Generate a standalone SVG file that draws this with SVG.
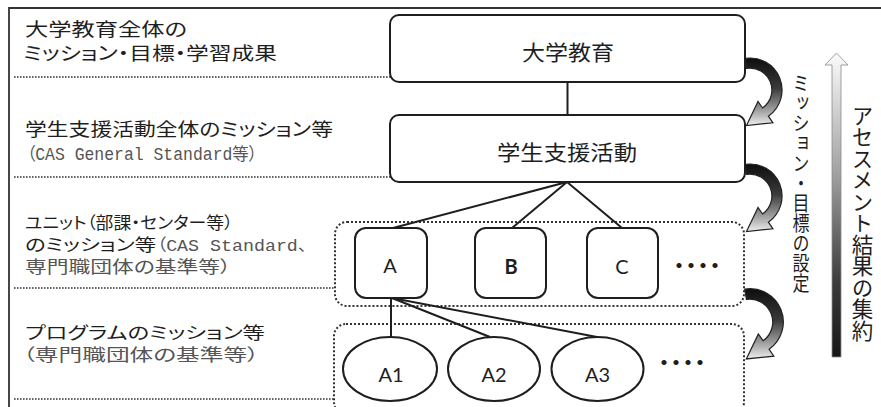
<svg xmlns="http://www.w3.org/2000/svg" width="881" height="407" viewBox="0 0 881 407">
<style>
.jp{font-family:"Noto Sans CJK JP","Noto Sans",sans-serif;font-feature-settings:"palt";fill:#1e1e1e}
.sf{font-family:"Liberation Mono","Noto Sans CJK JP",monospace;font-feature-settings:"palt";fill:#555}
.sfj{font-family:"Noto Sans CJK JP",sans-serif;font-feature-settings:"palt";fill:#555}
.sep{stroke:#333;stroke-width:1.7;stroke-dasharray:1.6 1.4;fill:none}
.dbox{stroke:#333;stroke-width:2;stroke-dasharray:2 2;fill:none}
.box{fill:#fff;stroke:#1e1e1e;stroke-width:2}
.con{stroke:#1e1e1e;stroke-width:2;fill:none}
.lbl{font-family:Lato,"Open Sans",sans-serif;font-size:20px;fill:#1e1e1e;text-anchor:middle}
.dots{font-family:"Noto Sans CJK JP",sans-serif;font-size:20px;font-weight:bold;letter-spacing:-8px;fill:#1e1e1e}
.vt{font-family:"Noto Sans CJK JP",sans-serif;fill:#1e1e1e;writing-mode:vertical-rl}
</style>
<defs>
<linearGradient id="gc" x1="0" y1="0" x2="0" y2="1">
<stop offset="0" stop-color="#0e0e0e"/>
<stop offset="0.45" stop-color="#3a3a3a"/>
<stop offset="0.8" stop-color="#a8a8a8"/>
<stop offset="1" stop-color="#efefef"/>
</linearGradient>
<linearGradient id="gu" x1="0" y1="0" x2="0" y2="1">
<stop offset="0" stop-color="#fbfbfb"/>
<stop offset="0.4" stop-color="#a0a0a0"/>
<stop offset="0.75" stop-color="#3c3c3c"/>
<stop offset="1" stop-color="#161616"/>
</linearGradient>
<path id="carrow" d="M-5,-31.6 A32,32 0 0 1 18.4,26.2 L22.9,32.8 L-3.5,35.5 L8,11.5 L12.6,18 A22,22 0 0 0 -3.4,-21.7 Z" fill="url(#gc)" stroke="#222" stroke-width="1.2"/>
</defs>

<path d="M9,407 V8 H881" fill="none" stroke="#333" stroke-width="1.8"/>

<g id="separators">
<line class="sep" x1="14" y1="77" x2="390" y2="77"/>
<line class="sep" x1="14" y1="177" x2="390" y2="177"/>
<line class="sep" x1="14" y1="288" x2="335" y2="288"/>
<line class="sep" x1="14" y1="399" x2="334" y2="399"/>
</g>

<g id="labels">
<text id="label-1" class="jp" font-size="18.5"><tspan x="25" y="36" textLength="162" lengthAdjust="spacingAndGlyphs">大学教育全体の</tspan><tspan x="23" y="60" textLength="254" lengthAdjust="spacingAndGlyphs">ミッション・目標・学習成果</tspan></text>
<text id="label-2" class="jp" font-size="18.5"><tspan x="25" y="136" textLength="308" lengthAdjust="spacingAndGlyphs">学生支援活動全体のミッション等</tspan><tspan class="sf" x="27" y="160" font-size="17.5" textLength="230" lengthAdjust="spacingAndGlyphs">（CAS General Standard等）</tspan></text>
<text id="label-3" class="jp" font-size="16.5"><tspan x="25" y="229" textLength="208" lengthAdjust="spacingAndGlyphs">ユニット（部課・センター等）</tspan><tspan x="25" y="251" textLength="131" lengthAdjust="spacingAndGlyphs">のミッション等</tspan><tspan class="sf" x="157" y="251" font-size="16.5" textLength="150" lengthAdjust="spacingAndGlyphs">（CAS Standard、</tspan><tspan class="sfj" x="25" y="273" textLength="206" lengthAdjust="spacingAndGlyphs">専門職団体の基準等）</tspan></text>
<text id="label-4" class="jp" font-size="16.5"><tspan x="25" y="339" textLength="240" lengthAdjust="spacingAndGlyphs">プログラムのミッション等</tspan><tspan class="sfj" x="23" y="361" textLength="236" lengthAdjust="spacingAndGlyphs">（専門職団体の基準等）</tspan></text>
</g>

<g id="groups">
<rect id="unit-group" class="dbox" x="335" y="222" width="409" height="84" rx="12"/>
<rect id="program-group" class="dbox" x="334" y="324" width="410" height="90" rx="12"/>
</g>

<g id="flow-arrows">
<use href="#carrow" transform="translate(750,90)"/>
<use href="#carrow" transform="translate(750,196)"/>
<use href="#carrow" transform="translate(750,322) scale(1.04)"/>
</g>

<g id="connectors">
<line class="con" x1="567.5" y1="82" x2="567.5" y2="115"/>
<line class="con" x1="567" y1="182" x2="393" y2="228"/>
<line class="con" x1="567" y1="182" x2="512" y2="228"/>
<line class="con" x1="567" y1="182" x2="622" y2="228"/>
<line class="con" x1="391" y1="298" x2="391" y2="337"/>
<line class="con" x1="392" y1="298" x2="490" y2="337"/>
<line class="con" x1="392" y1="298" x2="597" y2="337"/>
</g>

<g id="node-daigaku">
<rect class="box" x="390" y="15" width="355" height="67" rx="9"/>
<text class="jp" x="522" y="60" font-size="21" textLength="92" lengthAdjust="spacingAndGlyphs">大学教育</text>
</g>
<g id="node-gakusei">
<rect class="box" x="390" y="115" width="355" height="67" rx="9"/>
<text class="jp" x="497" y="160" font-size="21" textLength="140" lengthAdjust="spacingAndGlyphs">学生支援活動</text>
</g>
<g id="node-A">
<rect class="box" x="355" y="228" width="72" height="70" rx="11"/>
<text class="lbl" x="390" y="273">A</text>
</g>
<g id="node-B">
<rect class="box" x="475" y="228" width="71" height="70" rx="11"/>
<text class="lbl" x="511" y="274" font-weight="bold">B</text>
</g>
<g id="node-C">
<rect class="box" x="587" y="228" width="71" height="70" rx="11"/>
<text class="lbl" x="622" y="274">C</text>
</g>
<g id="unit-more">
<text class="dots" x="669" y="272.5">・・・・</text>
</g>
<g id="node-A1">
<ellipse class="box" cx="390" cy="369" rx="47" ry="32"/>
<text class="lbl" x="391" y="382">A1</text>
</g>
<g id="node-A2">
<ellipse class="box" cx="494" cy="369" rx="46" ry="32"/>
<text class="lbl" x="494" y="382">A2</text>
</g>
<g id="node-A3">
<ellipse class="box" cx="597.5" cy="369" rx="46" ry="32"/>
<text class="lbl" x="597.5" y="382">A3</text>
</g>
<g id="program-more">
<text class="dots" x="654" y="369.5">・・・・</text>
</g>

<g id="side">
<g transform="translate(801,0) scale(0.85,1) translate(-801,0)">
<text class="vt" x="801" y="73" font-size="20">ミッション・目標の設定</text>
</g>
<polygon points="836.5,53 848,65 841,65 841,357 832,357 832,65 825,65" fill="url(#gu)" stroke="#8a8a8a" stroke-width="0.8"/>
<text class="vt" x="862.5" y="105" font-size="21.5">アセスメント結果の集約</text>
</g>
</svg>
